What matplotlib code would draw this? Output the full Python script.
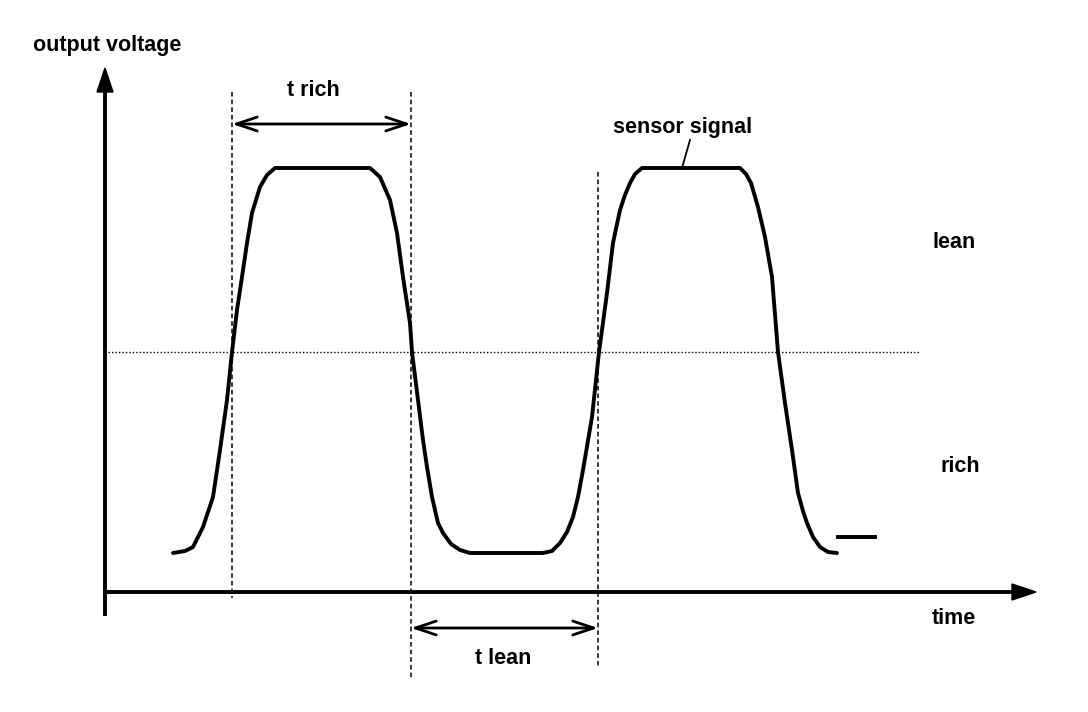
import matplotlib
matplotlib.use("Agg")
import matplotlib.pyplot as plt
from matplotlib.patches import FancyArrowPatch

# Sensor signal trace (diagram coordinates: x right, y down)
sig_x = [173, 185, 193, 203, 213, 220, 227, 232, 237, 242, 247, 252, 260, 267, 275,
         370, 380, 390, 397, 403, 410, 412, 418, 423, 427, 432, 438, 443, 451, 460, 470,
         543, 552, 560, 567, 573, 578, 583, 592, 599, 607, 613, 620, 625, 630, 635, 642,
         740, 746, 751, 758, 765, 772, 778, 785, 792, 798, 803, 807, 813, 820, 828, 837]
sig_y = [553, 551, 547, 527, 497, 450, 400, 352, 310, 277, 243, 213, 187, 175, 168,
         168, 177, 200, 233, 277, 323, 352, 400, 440, 467, 497, 523, 533, 544, 550, 553,
         553, 551, 543, 532, 517, 497, 470, 417, 352, 293, 243, 210, 195, 183, 174, 168,
         168, 174, 183, 207, 237, 277, 352, 403, 450, 493, 511, 523, 537, 547, 552, 553]

threshold_y = 352
t_marks = [232, 411, 598]
labels = {"y_axis": "output voltage", "x_axis": "time", "lean": "lean",
          "rich": "rich", "t_rich": "t rich", "t_lean": "t lean",
          "signal": "sensor signal"}

plt.rcParams['font.family'] = ['Liberation Sans', 'DejaVu Sans']
fig = plt.figure(figsize=(10.88, 7.12), dpi=100)
ax = fig.add_axes([0, 0, 1, 1])
ax.set_xlim(0, 1088)
ax.set_ylim(712, 0)
ax.axis('off')

# axes arrows
ax.plot([105, 105], [614, 90], color='black', lw=2.8)
ax.fill([97, 113, 105], [92, 92, 68], color='black')
ax.plot([105, 1012], [592, 592], color='black', lw=2.8)
ax.fill([1012, 1012, 1036], [584, 600, 592], color='black')

# threshold dotted line
ax.plot([108, 920], [threshold_y, threshold_y], color='black', lw=1, ls=(0, (1, 1.5)))

# dashed verticals
ax.plot([t_marks[0]] * 2, [92, 598], color='black', lw=1.1, ls=(0, (3, 2)))
ax.plot([t_marks[1]] * 2, [92, 678], color='black', lw=1.1, ls=(0, (3, 2)))
ax.plot([t_marks[2]] * 2, [172, 668], color='black', lw=1.1, ls=(0, (3, 2)))

# signal
ax.plot(sig_x, sig_y, color='black', lw=2.8, solid_capstyle='round', solid_joinstyle='round')
ax.plot([838, 875], [537, 537], color='black', lw=2.8)

# double arrows
for (x0, x1, y) in [(t_marks[0], t_marks[1], 124), (t_marks[1], t_marks[2], 628)]:
    ax.add_patch(FancyArrowPatch((x0, y), (x1, y), arrowstyle='<->,head_length=15,head_width=5',
                                 color='black', lw=2, shrinkA=0, shrinkB=0))

fs = 15.5
kw = dict(ha='center', va='center', fontsize=fs, fontweight='bold')
ax.text(107, 45, labels["y_axis"], **kw)
ax.text(954, 618, labels["x_axis"], **kw)
ax.text(954, 242, labels["lean"], **kw)
ax.text(960, 466, labels["rich"], **kw)
ax.text(313, 90, labels["t_rich"], **kw)
ax.text(503, 658, labels["t_lean"], **kw)
ax.text(683, 127, labels["signal"], **kw)
ax.plot([690, 682], [140, 168], color='black', lw=1.3)

fig.savefig('out.png', dpi=100, facecolor='white')
